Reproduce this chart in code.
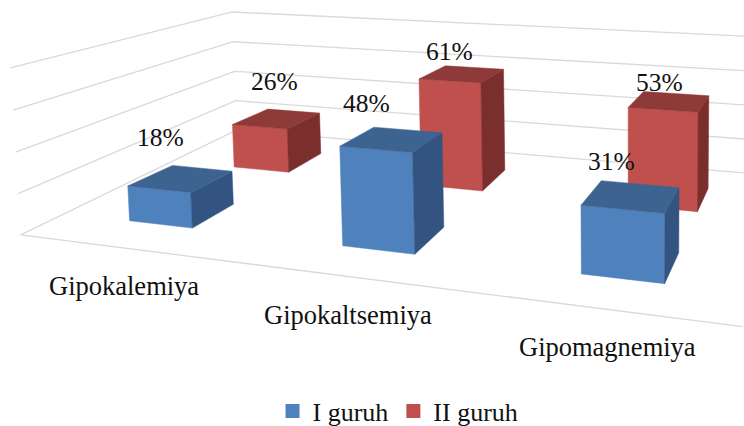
import numpy as np, plotly.graph_objects as go

categories = ["Gipokalemiya", "Gipokaltsemiya", "Gipomagnemiya"]
series_names = ["I guruh", "II guruh"]
values_1 = [18, 48, 31]
values_2 = [26, 61, 53]
series_values = [values_1, values_2]

# style / camera
FONT = "Liberation Serif"
COL = [dict(front="#4F81BD", top="#3D6490", side="#335480"),
       dict(front="#C0504D", top="#8E3A38", side="#7B2F2D")]
V_MAX = 82.0
CAL = np.array([[0,0,0,22,232],[1,0,0,744,325],[0,1,0,235,131],[1,1,0,744,175],
                [0,0,1,8,72],[0,1,1,235,10],[1,1,1,744,35]], float)
A = []; b = []
for u, v, w, x, y in CAL:
    A.append([u,v,w,1,0,0,0,0,-x*u,-x*v,-x*w]); b.append(x)
    A.append([0,0,0,0,u,v,w,1,-y*u,-y*v,-y*w]); b.append(y)
P = np.append(np.linalg.lstsq(np.array(A), np.array(b), rcond=None)[0], 1).reshape(3, 4)

def proj(u, v, w):
    q = P @ np.array([u, v, w, 1.0])
    return q[0]/q[2], q[1]/q[2]

BASE_U = [0.110, 0.454, 0.788]
SHEAR = [0.024, 0.038, 0.058]
DEPTH = [(0.155, 0.335), (0.625, 0.825)]
WIDTH = 0.107

def bar_xyz(cat, ser, val):
    u0 = BASE_U[cat]
    u1 = u0 + WIDTH
    v0, v1 = DEPTH[ser]
    S = SHEAR[cat]
    h = val / V_MAX
    def c(uu, vv, ww):
        return proj(uu + S*vv, vv, ww)
    return dict(
        front=[c(u0,v0,0), c(u1,v0,0), c(u1,v0,h), c(u0,v0,h)],
        side=[c(u1,v0,0), c(u1,v1,0), c(u1,v1,h), c(u1,v0,h)],
        top=[c(u0,v0,h), c(u1,v0,h), c(u1,v1,h), c(u0,v1,h)],
        mid=c((u0+u1)/2, (v0+v1)/2, h))

fig = go.Figure()
# gridlines on the walls and floor
GRID = "#D9D9D9"
for i in range(5):
    w = i/4
    pts = [proj(0,0,w), proj(0,1,w), proj(1,1,w)]
    fig.add_trace(go.Scatter(x=[q[0] for q in pts], y=[q[1] for q in pts], mode="lines",
                             line=dict(color=GRID, width=1.3), showlegend=False, hoverinfo="skip"))
pts = [proj(0,0,0), proj(1,0,0)]
fig.add_trace(go.Scatter(x=[q[0] for q in pts], y=[q[1] for q in pts], mode="lines",
                         line=dict(color=GRID, width=1.3), showlegend=False, hoverinfo="skip"))

# bars: back series first
for ser in (1, 0):
    for cat, val in enumerate(series_values[ser]):
        faces = bar_xyz(cat, ser, val)
        for face in ("front", "side", "top"):
            q = faces[face] + [faces[face][0]]
            fig.add_trace(go.Scatter(x=[p[0] for p in q], y=[p[1] for p in q], mode="lines",
                                     fill="toself", fillcolor=COL[ser][face],
                                     line=dict(color=COL[ser][face], width=0.5),
                                     showlegend=False, hoverinfo="skip"))

# data labels: pixel nudges from each bar's top centre
NUDGE = [[(-21,-41), (-26,-36), (-20,-35)], [(-3,-37), (-13,-22), (-10,-19)]]
for ser in (0, 1):
    for cat, val in enumerate(series_values[ser]):
        mx, my = bar_xyz(cat, ser, val)["mid"]
        dx, dy = NUDGE[ser][cat]
        fig.add_annotation(x=mx+dx, y=my+dy, text=f"{val}%", showarrow=False,
                           font=dict(family=FONT, size=25.5, color="#111111"))

# category labels
CAT_POS = [(124,286), (348,315), (607,347)]
for t, (x, y) in zip(categories, CAT_POS):
    fig.add_annotation(x=x, y=y, text=t, showarrow=False, font=dict(family=FONT, size=26.5, color="#111111"))

# legend
for ser, name in enumerate(series_names):
    fig.add_trace(go.Scatter(x=[None], y=[None], mode="markers", name=name,
                             marker=dict(symbol="square", size=14, color=COL[ser]["front"])))

fig.update_layout(width=744, height=426, margin=dict(l=0,r=0,t=0,b=0,autoexpand=False),
                  paper_bgcolor="white", plot_bgcolor="white",
                  xaxis=dict(range=[0,744], visible=False, fixedrange=True),
                  yaxis=dict(range=[426,0], visible=False, fixedrange=True),
                  legend=dict(orientation="h", x=0.535, xanchor="center", y=-0.02, yanchor="bottom",
                              font=dict(family=FONT, size=26, color="#111111"),
                              bgcolor="rgba(0,0,0,0)", itemwidth=30, tracegroupgap=0))
fig.write_html("out.html", config=dict(displayModeBar=False),
               post_script="document.body.style.margin='0';document.documentElement.style.overflow='hidden';")
